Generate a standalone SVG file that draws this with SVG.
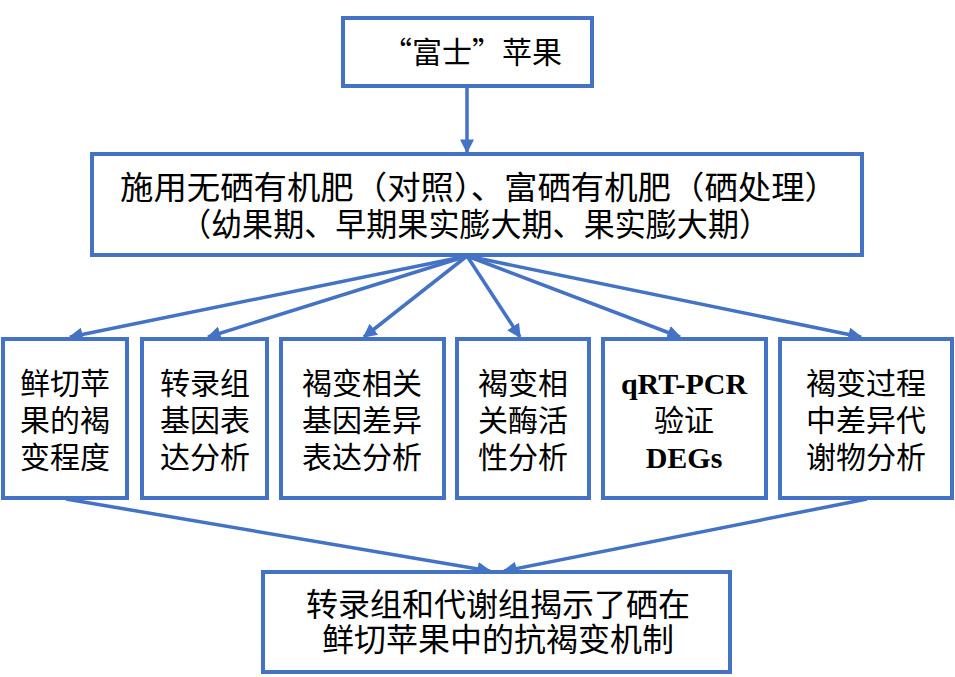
<svg xmlns="http://www.w3.org/2000/svg" width="955" height="677" viewBox="0 0 955 677">
<defs>
<style>
.box{fill:#fff;stroke:#4472C4;stroke-width:4}
.t{font-family:"Liberation Serif","Noto Sans CJK SC",serif;fill:#000;text-anchor:middle}
.cjk{font-family:"Noto Sans CJK SC",sans-serif}
.s{font-size:30px}
.b{font-weight:bold}
.c{fill:none;stroke:#4472C4;stroke-width:3.5}
</style>
<marker id="ah" viewBox="0 0 10 10" refX="9" refY="5" markerWidth="4" markerHeight="4" orient="auto" markerUnits="strokeWidth">
<path d="M0,0 L10,5 L0,10 z" fill="#4472C4"/>
</marker>
</defs>
<rect width="955" height="677" fill="#fff"/>
<g id="connectors">
<line class="c" x1="467" y1="86" x2="467" y2="152" marker-end="url(#ah)"/>
<line class="c" x1="467" y1="256" x2="70" y2="337" marker-end="url(#ah)"/>
<line class="c" x1="467" y1="256" x2="208" y2="337" marker-end="url(#ah)"/>
<line class="c" x1="467" y1="256" x2="364" y2="337" marker-end="url(#ah)"/>
<line class="c" x1="467" y1="256" x2="520" y2="337" marker-end="url(#ah)"/>
<line class="c" x1="467" y1="256" x2="680" y2="337" marker-end="url(#ah)"/>
<line class="c" x1="467" y1="256" x2="861" y2="337" marker-end="url(#ah)"/>
<line class="c" x1="66" y1="499" x2="490" y2="571" marker-end="url(#ah)"/>
<line class="c" x1="867" y1="499" x2="504" y2="571" marker-end="url(#ah)"/>
</g>
<g id="n-top">
<rect class="box" x="343" y="18" width="249" height="68"/>
<text class="t cjk" x="472" y="63" font-size="30">“富士”苹果</text>
</g>
<g id="n-treat">
<rect class="box" x="92" y="154" width="770" height="101"/>
<text class="t" x="479" y="199" font-size="32" textLength="718" lengthAdjust="spacingAndGlyphs">施用无硒有机肥（对照）、富硒有机肥（硒处理）</text>
<text class="t" x="475" y="236" font-size="32" textLength="590" lengthAdjust="spacingAndGlyphs">（幼果期、早期果实膨大期、果实膨大期）</text>
</g>
<g id="n1">
<rect class="box" x="3" y="339" width="124" height="159"/>
<text class="t s" x="65" y="394">鲜切苹</text>
<text class="t s" x="65" y="431">果的褐</text>
<text class="t s" x="65" y="468">变程度</text>
</g>
<g id="n2">
<rect class="box" x="142" y="339" width="125" height="159"/>
<text class="t s" x="205" y="394">转录组</text>
<text class="t s" x="205" y="431">基因表</text>
<text class="t s" x="205" y="468">达分析</text>
</g>
<g id="n3">
<rect class="box" x="281" y="339" width="163" height="159"/>
<text class="t s" x="362" y="394">褐变相关</text>
<text class="t s" x="362" y="431">基因差异</text>
<text class="t s" x="362" y="468">表达分析</text>
</g>
<g id="n4">
<rect class="box" x="457" y="339" width="132" height="159"/>
<text class="t s" x="523" y="394">褐变相</text>
<text class="t s" x="523" y="431">关酶活</text>
<text class="t s" x="523" y="468">性分析</text>
</g>
<g id="n5">
<rect class="box" x="603" y="339" width="163" height="159"/>
<text class="t s b" x="684" y="394">qRT-PCR</text>
<text class="t s" x="684" y="431">验证</text>
<text class="t s b" x="684" y="468">DEGs</text>
</g>
<g id="n6">
<rect class="box" x="780" y="339" width="172" height="159"/>
<text class="t s" x="866" y="394">褐变过程</text>
<text class="t s" x="866" y="431">中差异代</text>
<text class="t s" x="866" y="468">谢物分析</text>
</g>
<g id="n-result">
<rect class="box" x="263" y="572" width="467" height="100"/>
<text class="t" x="498" y="616" font-size="32">转录组和代谢组揭示了硒在</text>
<text class="t" x="498" y="651" font-size="32">鲜切苹果中的抗褐变机制</text>
</g>
</svg>
